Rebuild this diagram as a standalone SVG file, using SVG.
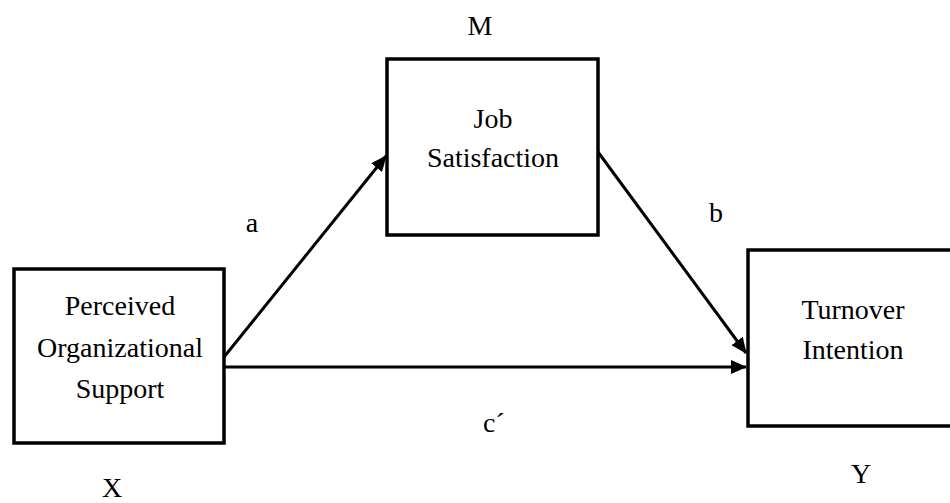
<svg xmlns="http://www.w3.org/2000/svg" width="950" height="503" viewBox="0 0 950 503">
<style>
.box{fill:#fff;stroke:#000;stroke-width:3.5}
.con{stroke:#000;stroke-width:3;fill:none;marker-end:url(#ah)}
</style>
<defs>
<marker id="ah" markerUnits="userSpaceOnUse" markerWidth="16" markerHeight="14" refX="15" refY="7" orient="auto">
<path d="M0,0 L16,7 L0,14 Z" fill="#000"/>
</marker>
</defs>
<rect width="950" height="503" fill="#fff"/>
<g id="connectors">
<line class="con" x1="224" y1="357" x2="386" y2="156"/>
<line class="con" x1="598" y1="152" x2="746" y2="353"/>
<line class="con" x1="224" y1="367" x2="746" y2="367"/>
</g>
<g font-family="Liberation Serif, DejaVu Serif, serif" font-size="28" text-anchor="middle" fill="#000">
<g id="node-x">
<rect class="box" x="14" y="269" width="210" height="174"/>
<text x="120" y="315">Perceived</text>
<text x="120" y="357">Organizational</text>
<text x="120" y="398">Support</text>
<text x="112" y="497">X</text>
</g>
<g id="node-m">
<rect class="box" x="387" y="59" width="211" height="176"/>
<text x="493" y="128">Job</text>
<text x="493" y="167">Satisfaction</text>
<text x="480" y="35">M</text>
</g>
<g id="node-y">
<rect class="box" x="748" y="250" width="212" height="176"/>
<text x="853" y="319">Turnover</text>
<text x="853" y="359">Intention</text>
<text x="861" y="483">Y</text>
</g>
<g id="labels">
<text x="252" y="232">a</text>
<text x="716" y="222">b</text>
<text x="494" y="432">c´</text>
</g>
</g>
</svg>
